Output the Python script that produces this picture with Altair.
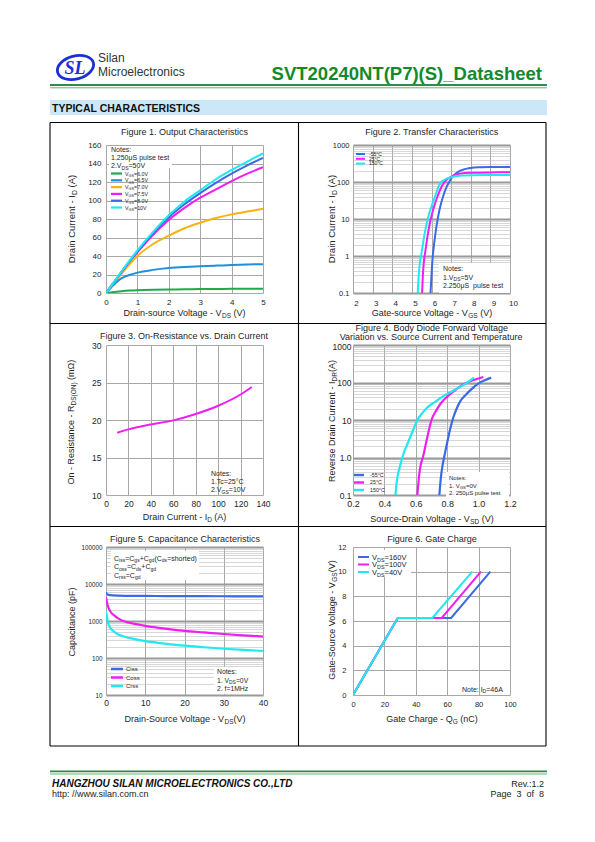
import re
import altair as alt
import pandas as pd

FONT = "Liberation Sans"
INK = "#1e1e1e"
GRID = "#a8a8a8"

# ====================== values ======================
# Figure 1 - Output characteristics: I_D (A) vs V_DS (V)
fig1_vds = [0, 0.25, 0.5, 0.75, 1.0, 1.5, 2.0, 2.5, 3.0, 3.5, 4.0, 4.5, 5.0]
fig1_id_vgs60 = [0, 1.2, 2.0, 2.6, 3.0, 3.5, 3.8, 4.0, 4.2, 4.35, 4.5, 4.55, 4.6]
fig1_id_vgs65 = [0, 9, 16, 19.5, 22, 25, 27, 28.2, 29, 29.6, 30.2, 30.7, 31.2]
fig1_id_vgs70 = [0, 11, 21, 31, 40, 53, 62, 70, 76, 81, 85, 88, 91]
fig1_id_vgs75 = [0, 11.5, 23, 34, 44, 63, 79, 92, 103, 112, 121, 129, 136]
fig1_id_vgs80 = [0, 11.5, 23, 34.5, 45, 65, 82, 96, 108, 119, 129, 138, 146]
fig1_id_vgs10 = [0, 11.7, 23.5, 35, 46, 66, 84, 99, 111, 123, 133, 142, 151]
fig1_legend = ["V_{GS}=6.0V", "V_{GS}=6.5V", "V_{GS}=7.0V", "V_{GS}=7.5V", "V_{GS}=8.0V", "V_{GS}=10V"]
fig1_xticks = [0, 1, 2, 3, 4, 5]
fig1_yticks = [0, 20, 40, 60, 80, 100, 120, 140, 160]

# Figure 2 - Transfer characteristics: I_D (A) vs V_GS (V)
fig2_vgs_m55 = [5.95, 6.0, 6.05, 6.1, 6.2, 6.3, 6.4, 6.5, 6.6, 6.7, 6.8, 6.9, 7.0, 7.2, 7.4, 7.6, 7.8, 8.0, 8.5, 9.0, 10.0]
fig2_id_m55 = [0.1, 0.3, 0.8, 1.5, 4, 9, 17, 28, 42, 60, 80, 100, 122, 163, 195, 215, 230, 240, 250, 255, 256]
fig2_vgs_25 = [5.52, 5.56, 5.6, 5.7, 5.8, 5.9, 6.0, 6.1, 6.2, 6.3, 6.4, 6.5, 6.6, 6.7, 6.8, 7.0, 7.2, 7.5, 8.0, 9.0, 10.0]
fig2_id_25 = [0.1, 0.3, 0.6, 1.5, 3.5, 7, 12, 19, 28, 40, 55, 72, 90, 105, 118, 138, 156, 170, 178, 182, 183]
fig2_vgs_150 = [5.3, 5.35, 5.4, 5.5, 5.6, 5.7, 5.8, 5.9, 6.0, 6.1, 6.2, 6.3, 6.4, 6.5, 6.6, 6.7, 6.8, 7.0, 7.3, 7.6, 8.0, 9.0, 10.0]
fig2_id_150 = [0.1, 0.3, 0.6, 1.3, 2.8, 5.5, 9.5, 15, 22, 31, 43, 62, 85, 100, 110, 118, 125, 135, 145, 150, 153, 155, 155]
fig2_legend = ["-55°C", "25°C", "150°C"]
fig2_xticks = [2, 3, 4, 5, 6, 7, 8, 9, 10]
fig2_ylabels = {0.1: "0.1", 1: "1", 10: "10", 100: "100", 1000: "1000"}

# Figure 3 - On-resistance: R_DS(ON) (mOhm) vs I_D (A)
fig3_id = [10, 20, 40, 60, 80, 100, 120, 130]
fig3_rds = [18.3, 18.75, 19.4, 19.95, 20.8, 21.9, 23.4, 24.4]
fig3_xticks = [0, 20, 40, 60, 80, 100, 120, 140]
fig3_yticks = [10, 15, 20, 25, 30]

# Figure 4 - Body diode forward voltage: I_DR (A) vs V_SD (V)
fig4_vsd_m55 = [0.75, 0.76, 0.77, 0.78, 0.80, 0.82, 0.84, 0.86, 0.88, 0.92, 0.96, 1.00, 1.04, 1.08]
fig4_idr_m55 = [0.1, 0.3, 0.6, 1.0, 2.5, 6, 12, 20, 30, 48, 70, 95, 115, 135]
fig4_vsd_25 = [0.61, 0.62, 0.63, 0.645, 0.67, 0.70, 0.73, 0.76, 0.80, 0.85, 0.90, 0.95, 1.00, 1.03]
fig4_idr_25 = [0.1, 0.3, 0.6, 1.0, 3.0, 10, 18, 28, 42, 62, 88, 110, 128, 140]
fig4_vsd_150 = [0.47, 0.48, 0.50, 0.52, 0.55, 0.58, 0.61, 0.64, 0.67, 0.72, 0.77, 0.82, 0.87, 0.92, 0.97]
fig4_idr_150 = [0.1, 0.25, 0.6, 1.2, 2.5, 5, 10, 15, 21, 30, 42, 55, 72, 95, 135]
fig4_legend = ["-55°C", "25°C", "150°C"]
fig4_xticks = [0.2, 0.4, 0.6, 0.8, 1.0, 1.2]
fig4_ylabels = {0.1: "0.1", 1: "1.0", 10: "10", 100: "100", 1000: "1000"}

# Figure 5 - Capacitance (pF) vs V_DS (V)
fig5_vds = [0, 0.3, 0.6, 1, 1.5, 2, 3, 5, 7, 10, 15, 20, 25, 30, 35, 40]
fig5_ciss = [5900, 5300, 5100, 5000, 4950, 4900, 4850, 4800, 4780, 4750, 4720, 4700, 4680, 4660, 4640, 4620]
fig5_coss = [4400, 3000, 2300, 1900, 1600, 1450, 1200, 950, 850, 740, 620, 540, 490, 445, 410, 380]
fig5_crss = [1800, 1200, 850, 680, 580, 520, 440, 370, 330, 285, 245, 215, 195, 178, 165, 155]
fig5_legend = ["Ciss", "Coss", "Crss"]
fig5_xticks = [0, 10, 20, 30, 40]
fig5_ylabels = {10: "10", 100: "100", 1000: "1000", 10000: "10000", 100000: "100000"}

# Figure 6 - Gate charge: V_GS (V) vs Q_G (nC)
fig6_qg_160 = [0, 28.5, 62.5, 87.5]
fig6_qg_100 = [0, 28.5, 56.5, 81.5]
fig6_qg_40 = [0, 28.5, 50.5, 76]
fig6_vgs = [0, 6.25, 6.25, 10]
fig6_legend = ["V_{DS}=160V", "V_{DS}=100V", "V_{DS}=40V"]
fig6_xticks = [0, 20, 40, 60, 80, 100]
fig6_yticks = [0, 2, 4, 6, 8, 10, 12]

# ====================== styles ======================
C_GREEN = "#1fab4b"
C_LBLUE = "#1f8fdc"
C_ORANGE = "#f7b214"
C_MAGENTA = "#f01ef0"
C_BLUE = "#3a6ae4"
C_CYAN = "#20e8f0"
fig1_colors = [C_GREEN, C_LBLUE, C_ORANGE, C_MAGENTA, C_BLUE, C_CYAN]
tri_colors = [C_BLUE, C_MAGENTA, C_CYAN]

# layout (page pixels)
PW = 157
ROW_H = [148, 150, 148]
HEAD_H = 84
GAP_ROW = 52
GAP_COL = 90
LEFT_X = 105
RIGHT_X = LEFT_X + PW + GAP_COL
ROW_Y = [8 + HEAD_H + GAP_ROW]
ROW_Y.append(ROW_Y[0] + ROW_H[0] + GAP_ROW)
ROW_Y.append(ROW_Y[1] + ROW_H[1] + GAP_ROW)

ONE = alt.InlineData(values=[{"a": 1}])

AW = {' ': 278, '!': 278, '"': 355, '#': 556, '%': 889, '&': 667, "'": 191, '(': 333, ')': 333,
      '*': 389, '+': 584, ',': 278, '-': 333, '.': 278, '/': 278, ':': 278, ';': 278, '<': 584,
      '=': 584, '>': 584, '?': 556, 'A': 667, 'B': 667, 'C': 722, 'D': 722, 'E': 667, 'F': 611,
      'G': 778, 'H': 722, 'I': 278, 'J': 500, 'K': 667, 'L': 556, 'M': 833, 'N': 722, 'O': 778,
      'P': 667, 'Q': 778, 'R': 722, 'S': 667, 'T': 611, 'U': 722, 'V': 667, 'W': 944, 'X': 667,
      'Y': 667, 'Z': 611, '_': 556, 'a': 556, 'b': 556, 'c': 500, 'd': 556, 'e': 556, 'f': 278,
      'g': 556, 'h': 556, 'i': 222, 'j': 222, 'k': 500, 'l': 222, 'm': 833, 'n': 556, 'o': 556,
      'p': 556, 'q': 556, 'r': 333, 's': 500, 't': 278, 'u': 556, 'v': 500, 'w': 722, 'x': 500,
      'y': 500, 'z': 500, 'μ': 576, '°': 400, 'Ω': 768, '\u00a0': 278}


def tw(s, size):
    return sum(AW.get(c, 556) for c in s) * size / 1000.0


def parse(markup):
    parts, pos = [], 0
    for m in re.finditer(r"_\{([^}]*)\}", markup):
        if m.start() > pos:
            parts.append((markup[pos:m.start()], False))
        parts.append((m.group(1), True))
        pos = m.end()
    if pos < len(markup):
        parts.append((markup[pos:], False))
    return parts


SUBF = 0.72


class Painter:
    def __init__(self, ox, oy):
        self.ox, self.oy = ox, oy

    def text(self, x, y, s, size, color=INK, align="left", angle=0, weight="normal",
             style="normal", font=FONT):
        return alt.Chart(ONE).mark_text(
            text=s, align=align, baseline="alphabetic", fontSize=size, angle=angle,
            color=color, fontWeight=weight, fontStyle=style, font=font
        ).encode(x=alt.value(round(x - self.ox, 2)), y=alt.value(round(y - self.oy, 2)))

    def rich(self, markup, x, y, size, align="left", angle=0, color=INK):
        parts = parse(markup)
        sizes = [size * SUBF if s else size for _, s in parts]
        ws = [tw(t, sz) for (t, _), sz in zip(parts, sizes)]
        tot = sum(ws)
        pos = {"left": 0, "center": -tot / 2, "right": -tot}[align]
        out = []
        for (t, s), sz, w in zip(parts, sizes, ws):
            stripped = t.lstrip(" ")
            lead = tw(t[:len(t) - len(stripped)], sz)
            body = stripped.rstrip(" ")
            if body:
                shift = size * 0.24 if s else 0
                a = pos + lead
                if angle == 0:
                    out.append(self.text(x + a, y + shift, body, sz, color))
                else:
                    out.append(self.text(x + shift, y - a, body, sz, color, angle=270))
            pos += w
        return out

    def line(self, x1, y1, x2, y2, color, width=1.0):
        return alt.Chart(ONE).mark_rule(color=color, strokeWidth=width).encode(
            x=alt.value(round(x1 - self.ox, 2)), y=alt.value(round(y1 - self.oy, 2)),
            x2=alt.value(round(x2 - self.ox, 2)), y2=alt.value(round(y2 - self.oy, 2)))

    def rect(self, x1, y1, x2, y2, fill):
        return alt.Chart(ONE).mark_rect(fill=fill).encode(
            x=alt.value(round(x1 - self.ox, 2)), y=alt.value(round(y1 - self.oy, 2)),
            x2=alt.value(round(x2 - self.ox, 2)), y2=alt.value(round(y2 - self.oy, 2)))


def lin_axis(values, size, pad, fmt=None, dx=0):
    kw = dict(values=values, title=None, grid=True, gridColor=GRID, gridWidth=1, domain=False,
              ticks=False, labelFont=FONT, labelFontSize=size, labelColor=INK, labelPadding=pad,
              labelFlush=False, labelOverlap=False)
    if fmt:
        kw["format"] = fmt
    if dx:
        kw["labelOffset"] = dx
    return alt.Axis(**kw)


def log_values(lo, hi):
    vals = []
    for e in range(lo, hi):
        for m in range(1, 10):
            vals.append(round(m * 10 ** e, 6))
    vals.append(round(10 ** hi, 6))
    return vals


def log_axis(lo, hi, labels, size, pad, top_drop=False):
    expr = "''"
    for v, lab in reversed(list(labels.items())):
        expr = f"datum.value == {v} ? '{lab}' : ({expr})"
    test = " || ".join(f"datum.value == {v}" for v in labels)
    kw = dict(values=log_values(lo, hi), title=None, grid=True,
              gridColor={"condition": {"test": test, "value": "#9a9a9a"}, "value": "#bcbcbc"},
              gridWidth={"condition": {"test": test, "value": 1.8}, "value": 0.6},
              domain=False, ticks=False, labelExpr=expr, labelFont=FONT, labelFontSize=size,
              labelColor=INK, labelPadding=pad, labelOverlap=False, labelFlush=False)
    if top_drop:
        top = round(10 ** hi, 6)
        kw["labelBaseline"] = {"condition": {"test": f"datum.value == {top}", "value": "top"},
                               "value": "middle"}
        kw["labelOffset"] = {"condition": {"test": f"datum.value == {top}", "value": -2.5},
                             "value": 0}
    return alt.Axis(**kw)


def curve(xs, ys, fx, fy, X, Y, color, width=2.0, interp="monotone"):
    return alt.Chart(pd.DataFrame({fx: xs, fy: ys})).mark_line(
        color=color, strokeWidth=width, interpolate=interp, clip=True
    ).encode(x=X, y=Y)


# ====================== Figure 1 ======================
p = Painter(LEFT_X, ROW_Y[0])
X1 = alt.X("f1x:Q", scale=alt.Scale(domain=[0, 5], nice=False), axis=lin_axis(fig1_xticks, 8, 5, "d"))
Y1 = alt.Y("f1y:Q", scale=alt.Scale(domain=[0, 160], nice=False), axis=lin_axis(fig1_yticks, 8, 5, "d"))
layers = []
for ys, col in zip([fig1_id_vgs60, fig1_id_vgs65, fig1_id_vgs70, fig1_id_vgs75, fig1_id_vgs80, fig1_id_vgs10], fig1_colors):
    layers.append(curve(fig1_vds, ys, "f1x", "f1y", X1, Y1, col, 2.0))
layers += p.rich("Figure 1. Output Characteristics", 183.5, 134, 9, align="center")
layers += p.rich("Drain Current - I_{D} (A)", 74, 218, 9.5, align="center", angle=270)
layers += p.rich("Drain-source Voltage - V_{DS} (V)", 183.5, 314.5, 9, align="center")
layers.append(p.rect(108, 145, 171, 167, "white"))
layers += p.rich("Notes:", 110, 151, 7)
layers += p.rich("1.250μS pulse test", 110, 159, 7)
layers += p.rich("2.V_{DS}=50V", 110, 167, 7)
for i, (lab, col) in enumerate(zip(fig1_legend, fig1_colors)):
    yy = 172.5 + 6.8 * i
    layers.append(p.line(110, yy, 121, yy, col, 2.2))
    layers += p.rich(lab, 124, yy + 2, 5.3)
fig1 = alt.layer(*layers).properties(width=PW, height=ROW_H[0])

# ====================== Figure 2 ======================
p = Painter(RIGHT_X, ROW_Y[0])
X2 = alt.X("f2x:Q", scale=alt.Scale(domain=[2, 10], nice=False, zero=False), axis=lin_axis(fig2_xticks, 8, 6, "d", dx=3))
Y2 = alt.Y("f2y:Q", scale=alt.Scale(type="log", domain=[0.1, 1000], nice=False), axis=log_axis(-1, 3, fig2_ylabels, 7.5, 4))
layers = [
    curve(fig2_vgs_m55, fig2_id_m55, "f2x", "f2y", X2, Y2, C_BLUE, 2.0),
    curve(fig2_vgs_25, fig2_id_25, "f2x", "f2y", X2, Y2, C_MAGENTA, 2.0),
    curve(fig2_vgs_150, fig2_id_150, "f2x", "f2y", X2, Y2, C_CYAN, 2.0),
]
layers += p.rich("Figure 2. Transfer Characteristics", 431, 134, 9, align="center")
layers += p.rich("Drain Current - I_{D} (A)", 334, 218, 9.5, align="center", angle=270)
layers += p.rich("Gate-source Voltage - V_{GS} (V)", 431, 314.5, 9, align="center")
for i, (lab, col) in enumerate(zip(fig2_legend, tri_colors)):
    yy = 153 + 4.8 * i
    layers.append(p.line(355, yy, 364, yy, col, 2.0))
    layers += p.rich(lab, 368, yy + 1.8, 5)
layers.append(p.rect(438, 262, 509, 292, "white"))
layers += p.rich("Notes:", 442, 270, 7)
layers += p.rich("1.V_{DS}=5V", 442, 278.5, 7)
layers += p.rich("2.250μS\u00a0 pulse test", 442, 287, 7)
fig2 = alt.layer(*layers).properties(width=PW, height=ROW_H[0])

# ====================== Figure 3 ======================
p = Painter(LEFT_X, ROW_Y[1])
X3 = alt.X("f3x:Q", scale=alt.Scale(domain=[0, 140], nice=False), axis=lin_axis(fig3_xticks, 8.5, 4, "d"))
Y3 = alt.Y("f3y:Q", scale=alt.Scale(domain=[10, 30], nice=False, zero=False), axis=lin_axis(fig3_yticks, 8.5, 5, "d"))
layers = [curve(fig3_id, fig3_rds, "f3x", "f3y", X3, Y3, C_MAGENTA, 2.0)]
layers += p.rich("Figure 3. On-Resistance vs. Drain Current", 183, 337.5, 9, align="center")
layers += p.rich("On - Resistance - R_{DS(ON)} (mΩ)", 72.5, 421, 9, align="center", angle=270)
layers += p.rich("Drain Current - I_{D} (A)", 183.5, 519, 9, align="center")
layers += p.rich("Notes:", 210, 475, 7)
layers += p.rich("1.Tc=25°C", 210, 483, 7)
layers += p.rich("2.V_{GS}=10V", 210, 491, 7)
fig3 = alt.layer(*layers).properties(width=PW, height=ROW_H[1])

# ====================== Figure 4 ======================
p = Painter(RIGHT_X, ROW_Y[1])
X4 = alt.X("f4x:Q", scale=alt.Scale(domain=[0.2, 1.2], nice=False, zero=False), axis=lin_axis(fig4_xticks, 9, 4, ".1f"))
Y4 = alt.Y("f4y:Q", scale=alt.Scale(type="log", domain=[0.1, 1000], nice=False),
           axis=log_axis(-1, 3, fig4_ylabels, 8.5, 2, top_drop=True))
layers = [
    curve(fig4_vsd_m55, fig4_idr_m55, "f4x", "f4y", X4, Y4, C_BLUE, 2.2),
    curve(fig4_vsd_25, fig4_idr_25, "f4x", "f4y", X4, Y4, C_MAGENTA, 2.2),
    curve(fig4_vsd_150, fig4_idr_150, "f4x", "f4y", X4, Y4, C_CYAN, 2.2),
]
layers += p.rich("Figure 4. Body Diode Forward Voltage", 431, 330, 9, align="center")
layers += p.rich("Variation vs. Source Current and Temperature", 431, 339.2, 9, align="center")
layers += p.rich("Reverse Drain Current - I_{DR}(A)", 333.5, 420, 9, align="center", angle=270)
layers += p.rich("Source-Drain Voltage - V_{SD} (V)", 431, 520.5, 9, align="center")
for i, (lab, col) in enumerate(zip(fig4_legend, tri_colors)):
    yy = 474 + 7.5 * i
    layers.append(p.line(353, yy, 363, yy, col, 2.4))
    layers += p.rich(lab, 369, yy + 1.8, 5.3)
layers.append(p.rect(445, 471, 508, 496, "white"))
layers += p.rich("Notes:", 448, 479, 6)
layers += p.rich("1. V_{GS}=0V", 448, 486.5, 6)
layers += p.rich("2. 250μS pulse test", 448, 494.3, 6)
fig4 = alt.layer(*layers).properties(width=PW, height=ROW_H[1])

# ====================== Figure 5 ======================
p = Painter(LEFT_X, ROW_Y[2])
X5 = alt.X("f5x:Q", scale=alt.Scale(domain=[0, 40], nice=False), axis=lin_axis(fig5_xticks, 8.5, 3, "d"))
Y5 = alt.Y("f5y:Q", scale=alt.Scale(type="log", domain=[10, 100000], nice=False), axis=log_axis(1, 5, fig5_ylabels, 6.3, 4))
layers = [
    curve(fig5_vds, fig5_ciss, "f5x", "f5y", X5, Y5, C_BLUE, 2.2),
    curve(fig5_vds, fig5_coss, "f5x", "f5y", X5, Y5, C_MAGENTA, 2.2),
    curve(fig5_vds, fig5_crss, "f5x", "f5y", X5, Y5, C_CYAN, 2.2),
]
layers += p.rich("Figure 5. Capacitance Characteristics", 184, 540.5, 9, align="center")
layers += p.rich("Capacitance (pF)", 73.5, 621, 9, align="center", angle=270)
layers += p.rich("Drain-Source Voltage - V_{DS}(V)", 184, 720.5, 9, align="center")
layers.append(p.rect(110, 550, 198, 579, "white"))
layers += p.rich("C_{iss}=C_{gs}+C_{gd}(C_{ds}=shorted)", 113, 559.5, 7)
layers += p.rich("C_{oss}=C_{ds}+C_{gd}", 113, 568, 7)
layers += p.rich("C_{rss}=C_{gd}", 113, 576.5, 7)
for i, (lab, col) in enumerate(zip(fig5_legend, tri_colors)):
    yy = 668 + 8.5 * i
    layers.append(p.line(110, yy, 122, yy, col, 2.5))
    layers += p.rich(lab, 125, yy + 2, 6)
layers.append(p.rect(213, 666, 262, 693, "white"))
layers += p.rich("Notes:", 216, 673, 6.8)
layers += p.rich("1. V_{DS}=0V", 216, 681.5, 6.8)
layers += p.rich("2. f=1MHz", 216, 689.5, 6.8)
fig5 = alt.layer(*layers).properties(width=PW, height=ROW_H[2])

# ====================== Figure 6 ======================
p = Painter(RIGHT_X, ROW_Y[2])
X6 = alt.X("f6x:Q", scale=alt.Scale(domain=[0, 100], nice=False), axis=lin_axis(fig6_xticks, 7.5, 5, "d"))
Y6 = alt.Y("f6y:Q", scale=alt.Scale(domain=[0, 12], nice=False), axis=lin_axis(fig6_yticks, 7.5, 7, "d"))
layers = [
    curve(fig6_qg_160, fig6_vgs, "f6x", "f6y", X6, Y6, C_BLUE, 2.0, "linear"),
    curve(fig6_qg_100, fig6_vgs, "f6x", "f6y", X6, Y6, C_MAGENTA, 2.0, "linear"),
    curve(fig6_qg_40, fig6_vgs, "f6x", "f6y", X6, Y6, C_CYAN, 2.0, "linear"),
]
layers += p.rich("Figure 6. Gate Charge", 431, 540.5, 9, align="center")
layers += p.rich("Gate-Source Voltage - V_{GS}(V)", 334, 619, 9, align="center", angle=270)
layers += p.rich("Gate Charge - Q_{G} (nC)", 431, 720.5, 9, align="center")
layers.append(p.rect(353, 549, 410, 576, "white"))
for i, (lab, col) in enumerate(zip(fig6_legend, tri_colors)):
    yy = 556 + 7.5 * i
    layers.append(p.line(357, yy, 368, yy, col, 2.0))
    layers += p.rich(lab, 371, yy + 2.7, 7.5)
layers += p.rich("Note: I_{D}=46A", 461, 690.5, 7)
fig6 = alt.layer(*layers).properties(width=PW, height=ROW_H[2])

# ====================== page header / frame / footer ======================
p = Painter(LEFT_X, 8)
GREEN_T = "#128a2a"
LOGO = "#1b30d4"
ELLIPSE = "M-1,0A1,0.62,0,1,1,1,0A1,0.62,0,1,1,-1,0Z"
hl = [p.line(8, 8, 300, 8, "white", 0.5)]
hl.append(alt.Chart(ONE).mark_point(shape=ELLIPSE, size=1369, filled=False, stroke=LOGO,
                                    strokeWidth=2.8, angle=345, opacity=1)
          .encode(x=alt.value(74.5 - LEFT_X), y=alt.value(66.5 - 8)))
hl.append(p.text(74, 73, "SL", 18, color=LOGO, align="center", weight="bold", style="italic",
                 font="Liberation Serif"))
hl.append(p.text(97, 60.8, "Silan", 12, color="#333333"))
hl.append(p.text(97, 74.5, "Microelectronics", 12, color="#333333"))
hl.append(p.text(541, 79, "SVT20240NT(P7)(S)_Datasheet", 18.5, color=GREEN_T, align="right", weight="bold"))
hl.append(p.line(49, 84, 546, 84, "#2e8b4e", 1.8))
hl.append(p.line(49, 86.8, 546, 86.8, "#63b67d", 1.0))
hl.append(p.rect(49, 99, 546, 114, "#cce8f8"))
hl.append(p.text(51, 110.5, "TYPICAL CHARACTERISTICS", 10.5, color="#111111", weight="bold"))
# table frame
for yy in [121.5, 322.5, 525.5, 745]:
    hl.append(p.line(49, yy, 545, yy, "#000000", 1.1))
for xx in [49, 297.5, 545]:
    hl.append(p.line(xx, 121.5, xx, 745, "#000000", 1.1))
# footer
hl.append(p.line(49, 770.3, 546, 770.3, "#2e8b4e", 1.8))
hl.append(p.line(49, 773, 546, 773, "#63b67d", 1.0))
hl.append(p.text(51, 785.5, "HANGZHOU SILAN MICROELECTRONICS CO.,LTD", 10, color="#111111",
                 weight="bold", style="italic"))
hl.append(p.text(51, 796, "http: //www.silan.com.cn", 9, color="#222222"))
hl.append(p.text(543, 785.5, "Rev.:1.2", 9, color="#222222", align="right"))
hl.append(p.text(543, 796, "Page\u00a0\u00a03\u00a0\u00a0of\u00a0\u00a08", 9, color="#222222", align="right"))
header = alt.layer(*hl).properties(width=PW, height=HEAD_H)

spacer = alt.Chart(ONE).mark_point(opacity=0, size=4).encode(
    x=alt.value(20), y=alt.value(5)).properties(width=PW, height=10)

chart = alt.concat(
    header, spacer, fig1, fig2, fig3, fig4, fig5, fig6,
    columns=2, bounds="flush", spacing=alt.RowColnumber(row=GAP_ROW, column=GAP_COL),
).properties(padding=0).configure(font=FONT, background="white").configure_view(stroke="transparent")

chart.save("out.html", embed_options={"renderer": "svg", "actions": False})
